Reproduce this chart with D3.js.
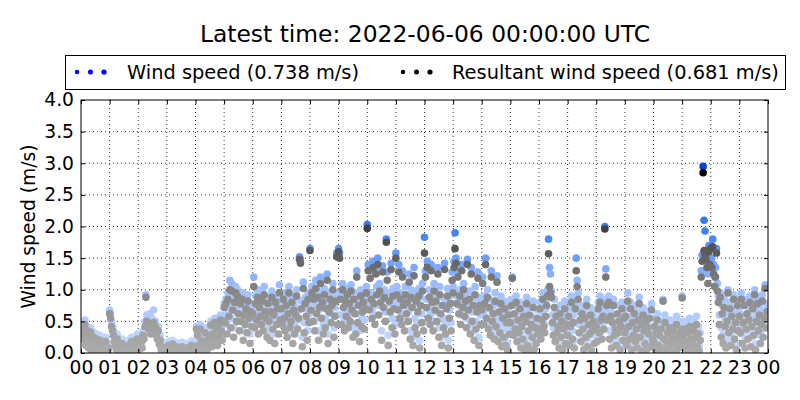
<!DOCTYPE html>
<html><head><meta charset="utf-8">
<script src="https://cdn.jsdelivr.net/npm/d3@7"></script>
<style>body{margin:0;background:#fff}svg{display:block;font-family:"DejaVu Sans",sans-serif}</style>
</head><body>
<svg id="c" width="800" height="400"></svg>
<script>
const title = "Latest time: 2022-06-06 00:00:00 UTC";
const seriesNames = ["Wind speed (0.738 m/s)", "Resultant wind speed (0.681 m/s)"];
const xTickLabels = ["00","01","02","03","04","05","06","07","08","09","10","11","12","13","14","15","16","17","18","19","20","21","22","23","00"];
const yTicks = [0,0.5,1,1.5,2,2.5,3,3.5,4];
const sampleStepMinutes = 2;
// Wind speed, 30 samples per hour (hours 00..23)
const windSpeed = [
.45,.50,.30,.38,.52,.20,.42,.28,.15,.35,.40,.10,.25,.33,.18,.08,.30,.22,.12,.05,.28,.15,.20,.10,.06,.18,.25,.12,.08,.15,
.68,.62,.50,.42,.35,.25,.20,.12,.30,.18,.08,.15,.05,.22,.10,.14,.06,.18,.04,.12,.20,.08,.15,.25,.10,.05,.12,.18,.22,.30,
.10,.15,.20,.25,.15,.35,.30,.50,.92,.60,.52,.45,.62,.38,.55,.48,.68,.40,.50,.35,.30,.42,.22,.28,.12,.18,.08,.15,.10,.05,
.15,.10,.18,.08,.12,.05,.20,.14,.06,.10,.16,.04,.09,.13,.07,.11,.17,.05,.08,.12,.03,.15,.10,.06,.14,.09,.19,.07,.12,.16,
.12,.42,.35,.20,.10,.45,.28,.15,.18,.08,.40,.25,.12,.15,.32,.22,.50,.18,.38,.26,.55,.30,.45,.20,.52,.35,.60,.42,.28,.58,
.78,.60,.85,.45,.95,.70,1.15,.55,1.10,.80,.40,.90,1.05,.65,1.00,.75,.50,.88,.62,.95,.35,.72,.58,.82,.48,.92,.68,.30,.78,.55,
.75,1.20,.55,.90,.65,1.00,.45,.85,.70,.60,.95,.50,1.05,.80,.68,.40,.88,.62,.35,.78,.98,.52,.72,.30,.92,.58,.82,.45,1.08,.66,
.80,.60,.95,.70,.50,.85,.40,.75,1.05,.55,.65,.90,.30,.80,.45,.72,1.00,.52,.68,1.52,1.48,.82,.25,1.12,.48,.88,.70,.35,.95,.62,
1.65,.80,1.05,.65,.95,.50,1.15,.75,.98,.35,.85,1.20,.70,.90,.45,1.02,.55,.82,1.25,.30,.78,.96,.62,.88,1.10,.40,.72,.92,1.58,.60,
1.65,1.58,.95,.60,1.10,.85,.50,.92,.70,1.02,.55,.88,.65,1.08,.80,.40,.96,.75,.45,1.30,.62,.86,.35,1.00,.58,.78,.90,.52,.82,1.05,
2.03,1.40,.80,1.30,.95,.70,1.45,.90,.60,1.35,1.05,1.50,.75,1.10,.92,.35,1.38,.85,1.00,.65,1.80,1.28,.28,.95,.78,1.42,.55,1.02,.82,.45,
1.58,1.05,.80,1.40,.70,.95,.60,1.30,.88,.50,1.05,.75,.92,.65,1.25,.35,1.00,.85,.25,1.35,.55,.95,.45,.78,1.02,.20,.88,.62,1.10,.48,
1.83,1.30,.85,1.45,.70,1.00,.60,1.40,.92,.50,1.10,.80,.95,.65,1.35,.40,1.05,.75,.25,.88,.55,1.42,.45,.82,1.02,.20,.68,.90,.48,1.28,
1.05,1.45,1.90,1.50,.90,1.30,.75,1.00,.60,1.40,.85,1.10,.70,.95,.55,1.48,.80,.98,.45,1.35,.65,.88,.35,1.05,.50,.78,1.28,.25,.88,.60,
.80,1.20,.60,.90,1.50,.70,1.00,.50,.85,.40,1.30,.65,.75,.35,.95,.55,1.22,.30,.78,.45,.90,.20,.68,.38,.82,.25,.60,.15,.72,.42,
.60,.85,1.20,.40,.75,.50,.90,.30,.65,.45,.80,.20,.55,.35,.70,.15,.62,.88,.25,.48,.72,.10,.58,.38,.82,.18,.52,.28,.68,.42,
.50,.80,.35,.65,.95,.55,.45,.70,.85,1.00,1.80,1.35,1.25,.98,.60,.40,.85,.30,.70,.45,.55,.20,.75,.38,.62,.15,.50,.82,.28,.58,
.40,.70,.25,.55,.90,.35,.60,.20,.80,1.50,1.15,.95,.45,.65,.30,.75,.50,.15,.68,.38,.85,.22,.58,.42,.72,.10,.48,.62,.28,.52,
.55,.30,.80,.45,.90,.65,.35,.70,.50,2.00,1.33,.85,.65,.90,.35,.70,.20,.60,.85,.40,.50,.25,.75,.45,.62,.15,.55,.80,.32,.68,
.45,.70,.25,.95,.55,.35,.80,.15,.60,.40,.75,.30,.50,.20,.65,.88,.38,.58,.12,.72,.48,.28,.62,.18,.52,.42,.68,.22,.78,.35,
.30,.55,.15,.45,.62,.25,.40,.10,.50,.20,.85,.35,.60,.15,.30,.45,.22,.52,.08,.38,.28,.48,.12,.35,.58,.18,.42,.25,.32,.50,
.90,.40,.20,.50,.30,.15,.45,.25,.55,.35,.10,.28,.48,.18,.38,.58,.22,.42,.12,.32,1.30,1.55,2.95,2.10,1.93,1.60,1.45,1.25,1.70,1.50,
1.70,1.50,1.80,1.40,1.20,1.35,1.65,1.10,.90,.60,.95,.40,.75,.30,.85,.55,.20,.65,1.00,.45,.80,.25,.70,.50,.92,.35,.62,.15,.85,.48,
.70,.45,.95,.30,.60,.85,.20,.50,.75,.35,.65,.90,.25,.55,.80,.40,1.00,.15,.62,.88,.48,.72,.28,.58,.92,.38,.68,1.08,.52,.78
];
// Resultant wind speed, same sampling
const resultantSpeed = [
.40,.44,.22,.30,.45,.12,.36,.20,.08,.28,.33,.04,.18,.25,.10,.02,.22,.14,.05,.01,.20,.08,.12,.03,.01,.10,.18,.05,.02,.08,
.62,.55,.42,.35,.28,.18,.12,.05,.22,.10,.02,.08,.01,.15,.04,.06,.01,.10,.00,.05,.12,.02,.08,.18,.03,.01,.05,.10,.15,.22,
.04,.08,.12,.18,.08,.28,.22,.42,.88,.50,.45,.38,.40,.30,.46,.40,.48,.32,.42,.28,.22,.35,.14,.20,.05,.10,.02,.08,.04,.01,
.08,.04,.12,.02,.06,.01,.14,.08,.02,.05,.10,.01,.03,.07,.02,.05,.10,.01,.02,.06,.00,.08,.04,.01,.07,.03,.12,.02,.05,.09,
.05,.38,.28,.12,.04,.38,.20,.08,.10,.02,.32,.18,.05,.08,.25,.14,.44,.10,.30,.18,.48,.22,.38,.12,.45,.28,.52,.35,.20,.50,
.72,.48,.78,.30,.85,.58,1.00,.40,.98,.68,.25,.80,.95,.50,.90,.62,.35,.78,.50,.85,.20,.60,.45,.70,.32,.82,.55,.15,.65,.42,
.62,1.05,.40,.78,.52,.88,.30,.72,.58,.45,.82,.35,.92,.65,.55,.25,.78,.50,.20,.65,.88,.38,.60,.15,.80,.45,.70,.30,.95,.52,
.70,.45,.85,.55,.35,.75,.25,.62,.95,.40,.50,.80,.15,.68,.30,.60,.90,.38,.55,1.48,1.42,.70,.10,1.02,.32,.78,.58,.20,.85,.48,
1.62,.68,.95,.50,.85,.35,1.02,.62,.88,.20,.72,1.10,.55,.80,.30,.92,.40,.70,1.15,.15,.65,.85,.48,.75,1.00,.25,.58,.82,1.52,.45,
1.60,1.50,.85,.45,1.00,.72,.35,.82,.58,.92,.40,.78,.50,.98,.68,.25,.85,.62,.30,1.20,.48,.75,.18,.90,.42,.65,.80,.38,.70,.95,
1.97,1.30,.68,1.18,.85,.55,1.35,.78,.45,1.25,.92,1.40,.60,.98,.80,.20,1.28,.72,.88,.50,1.75,1.15,.12,.82,.65,1.32,.40,.90,.70,.30,
1.50,.92,.68,1.28,.55,.85,.45,1.20,.75,.35,.92,.62,.80,.50,1.12,.22,.88,.72,.12,1.22,.40,.82,.30,.65,.90,.08,.75,.48,.98,.35,
1.58,1.20,.72,1.35,.55,.88,.45,1.30,.80,.35,.98,.68,.82,.50,1.25,.25,.92,.62,.12,.75,.40,1.32,.30,.70,.90,.08,.55,.78,.35,1.15,
.95,1.35,1.65,1.42,.78,1.20,.62,.90,.45,1.30,.72,1.00,.58,.82,.40,1.40,.68,.85,.30,1.25,.50,.75,.20,.92,.38,.65,1.18,.12,.75,.45,
.68,1.10,.45,.78,1.40,.55,.88,.38,.72,.28,1.20,.50,.62,.22,.82,.42,1.12,.18,.65,.32,.78,.10,.55,.25,.70,.12,.48,.05,.60,.30,
.48,.75,1.18,.28,.62,.38,.80,.18,.52,.32,.70,.08,.42,.22,.58,.05,.50,.78,.12,.35,.60,.03,.45,.25,.72,.06,.40,.15,.55,.30,
.38,.70,.22,.52,.85,.42,.32,.58,.75,.90,1.57,1.05,.95,.88,.48,.28,.72,.18,.58,.32,.42,.08,.62,.25,.50,.05,.38,.70,.15,.45,
.28,.58,.12,.42,.80,.22,.48,.08,.70,1.30,1.05,.85,.32,.52,.18,.62,.38,.05,.55,.25,.75,.10,.45,.30,.60,.03,.35,.50,.15,.40,
.42,.18,.70,.32,.80,.52,.22,.58,.38,1.96,1.20,.75,.52,.80,.22,.58,.08,.48,.75,.28,.38,.12,.62,.32,.50,.05,.42,.70,.20,.55,
.32,.58,.12,.82,.42,.22,.70,.05,.48,.28,.62,.18,.38,.08,.52,.78,.25,.45,.03,.60,.35,.15,.50,.06,.40,.30,.55,.10,.68,.22,
.18,.42,.05,.32,.52,.12,.28,.02,.38,.08,.82,.22,.48,.04,.18,.32,.10,.40,.01,.25,.15,.35,.03,.22,.45,.06,.30,.12,.20,.38,
.87,.28,.08,.38,.18,.05,.32,.12,.42,.22,.02,.15,.35,.06,.25,.45,.10,.30,.03,.20,1.20,1.45,2.85,1.62,1.55,1.48,1.35,1.10,1.60,1.40,
1.65,1.35,1.68,1.25,1.05,1.20,1.58,.98,.80,.45,.88,.25,.62,.15,.72,.42,.08,.50,.95,.32,.70,.12,.58,.38,.85,.22,.48,.05,.75,.35,
.58,.32,.85,.15,.48,.75,.08,.38,.62,.22,.52,.80,.10,.42,.70,.28,.92,.05,.50,.78,.35,.60,.15,.45,.82,.25,.55,1.02,.40,.65
];

const svg = d3.select("#c");
const L = 81, R = 768, T = 100, B = 353;
const x = d3.scaleLinear().domain([0, 24]).range([L, R]);
const y = d3.scaleLinear().domain([0, 4]).range([B, T]);
const blue = d3.scaleLinear().domain([0, 1.0, 1.8, 3]).range(["#c8dbff", "#a2c1ff", "#4a88ff", "#0040d8"]).clamp(true);
const grey = d3.scaleLinear().domain([0, 0.4, 1.0, 1.6, 2.85]).range(["#ababab", "#a0a0a0", "#858585", "#5a5a5a", "#000000"]).clamp(true);

svg.append("text").attr("x", 425).attr("y", 42).attr("text-anchor", "middle")
  .attr("font-size", 23.4).text(title);

// grid
const g = svg.append("g");
g.selectAll(".gx").data(d3.range(1, 24)).enter().append("line")
  .attr("x1", d => x(d)).attr("x2", d => x(d)).attr("y1", T).attr("y2", B)
  .attr("stroke", "#000").attr("stroke-width", 0.8).attr("stroke-dasharray", "1,3");
g.selectAll(".gy").data(yTicks.slice(1, -1)).enter().append("line")
  .attr("x1", L).attr("x2", R).attr("y1", d => y(d)).attr("y2", d => y(d))
  .attr("stroke", "#000").attr("stroke-width", 0.8).attr("stroke-dasharray", "1,3");

svg.append("defs").append("clipPath").attr("id", "clip").append("rect")
  .attr("x", L).attr("y", T).attr("width", R - L).attr("height", B - T);

const pts = svg.append("g").attr("clip-path", "url(#clip)");
const t = i => i * sampleStepMinutes / 60;
pts.selectAll(".w").data(windSpeed).enter().append("circle")
  .attr("cx", (d, i) => x(t(i))).attr("cy", d => y(d)).attr("r", 3.8)
  .attr("fill", d => blue(d));
pts.selectAll(".r").data(resultantSpeed).enter().append("circle")
  .attr("cx", (d, i) => x(t(i))).attr("cy", d => y(d)).attr("r", 3.8)
  .attr("fill", d => grey(d));

// axes (classic inward ticks)
const xa = d3.axisBottom(x).tickValues(d3.range(0, 25)).tickFormat(d => xTickLabels[d]).tickSizeInner(-4).tickSizeOuter(0).tickPadding(8);
const gx = svg.append("g").attr("transform", `translate(0,${B})`).call(xa);
gx.select(".domain").remove();
gx.selectAll("text").attr("font-size", 18.7).attr("fill", "#000").attr("font-family", "DejaVu Sans");
const xt = d3.axisTop(x).tickValues(d3.range(0, 25)).tickFormat("").tickSizeInner(-4).tickSizeOuter(0);
const gxt = svg.append("g").attr("transform", `translate(0,${T})`).call(xt);
gxt.select(".domain").remove();

const ya = d3.axisLeft(y).tickValues(yTicks).tickFormat(d3.format(".1f")).tickSizeInner(-4).tickSizeOuter(0).tickPadding(7);
const gy = svg.append("g").attr("transform", `translate(${L},0)`).call(ya);
gy.select(".domain").remove();
gy.selectAll("text").attr("font-size", 18.7).attr("fill", "#000").attr("font-family", "DejaVu Sans");
const yr = d3.axisRight(y).tickValues(yTicks).tickFormat("").tickSizeInner(-4).tickSizeOuter(0);
const gyr = svg.append("g").attr("transform", `translate(${R},0)`).call(yr);
gyr.select(".domain").remove();

svg.append("rect").attr("x", L).attr("y", T).attr("width", R - L).attr("height", B - T)
  .attr("fill", "none").attr("stroke", "#000").attr("stroke-width", 1);

svg.append("text").attr("transform", `translate(35,${(T + B) / 2}) rotate(-90)`)
  .attr("text-anchor", "middle").attr("font-size", 18.7).text("Wind speed (m/s)");

// legend
const lg = svg.append("g");
lg.append("rect").attr("x", 65.5).attr("y", 55.5).attr("width", 720).attr("height", 34)
  .attr("fill", "#fff").attr("stroke", "#000").attr("stroke-width", 1);
const legendItems = [
  {name: seriesNames[0], color: "#0000ff", x0: 77, tx: 127},
  {name: seriesNames[1], color: "#000000", x0: 403, tx: 452}
];
const dotSizes = [2.2, 2.5, 2.6];
legendItems.forEach(it => {
  dotSizes.forEach((r, k) => {
    lg.append("circle").attr("cx", it.x0 + k * 13.5).attr("cy", 72).attr("r", r).attr("fill", it.color);
  });
  lg.append("text").attr("x", it.tx).attr("y", 79).attr("font-size", 19.4).text(it.name);
});
</script>
</body></html>
